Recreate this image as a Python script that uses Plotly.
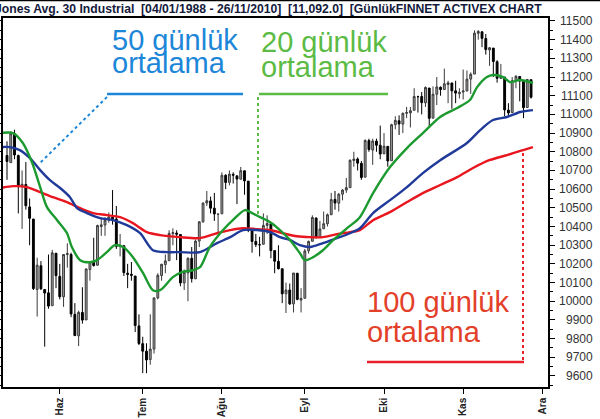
import plotly.graph_objects as go

# ---------------- data (DJIA daily, 11 May 2010 - 26 Nov 2010) ----------------
opens = [10780, 10742, 10896, 10780, 10618, 10625, 10505, 10440, 10063, 10190, 10063, 10045, 9976, 10257,
         10133, 10024, 10250, 10250, 9930, 9815, 9940, 9900, 10170, 10212, 10193, 10400, 10408, 10434, 10450,
         10440, 10293, 10297, 10150, 10144, 10135, 9868,
         9773, 9733, 9688, 9744, 10018, 10138, 10196, 10217, 10362, 10365, 10357, 10098, 10152, 10230, 10120,
         10322, 10425, 10526, 10537, 10498, 10465,
         10468, 10674, 10636, 10679, 10671, 10653, 10698, 10643, 10377, 10320, 10303, 10305, 10406, 10415,
         10271, 10214, 10174, 10040, 10060, 9986, 10150, 10006,
         10016, 10270, 10321, 10446, 10341, 10388, 10415, 10463, 10545, 10525, 10573, 10595, 10608, 10753,
         10761, 10738, 10664, 10860, 10809, 10857, 10835,
         10789, 10829, 10752, 10945, 10966, 10948, 11006, 11008, 11022, 11095, 11096, 11062, 11141, 10980,
         11108, 11145, 11133, 11160, 11168, 11126, 11111,
         11120, 11125, 11189, 11216, 11434, 11442, 11406, 11345, 11355, 11282, 11193, 11200, 11023, 11010,
         11180, 11203, 11177, 11037, 11186]
highs = [10856, 10910, 10918, 10785, 10700, 10745, 10550, 10440, 10233, 10215, 10063, 10250, 10275, 10258,
         10200, 10250, 10310, 10260, 9990, 9950, 10075, 10175, 10215, 10340, 10410, 10440, 10450, 10475, 10595,
         10510, 10360, 10300, 10200, 10210, 10135, 9930,
         9810, 9775, 9930, 10020, 10150, 10200, 10250, 10380, 10390, 10380, 10357, 10170, 10235, 10290, 10330,
         10428, 10530, 10590, 10560, 10580, 10470,
         10690, 10680, 10700, 10690, 10675, 10719, 10700, 10643, 10377, 10360, 10345, 10470, 10460, 10415,
         10271, 10300, 10174, 10100, 10095, 10150, 10150, 10070,
         10280, 10325, 10460, 10446, 10430, 10480, 10470, 10580, 10590, 10580, 10600, 10660, 10760, 10800,
         10770, 10750, 10867, 10870, 10870, 10870, 10940,
         10900, 10830, 10950, 10990, 10995, 11010, 11040, 11040, 11140, 11100, 11120, 11150, 11141, 11150,
         11200, 11150, 11245, 11180, 11170, 11180, 11140,
         11240, 11235, 11225, 11450, 11451, 11445, 11430, 11360, 11355, 11290, 11270, 11200, 11060, 11200,
         11210, 11203, 11180, 11190, 11186]
lows = [10650, 10742, 10760, 10470, 10387, 10490, 10300, 10060, 9918, 10060, 9757, 9960, 9976, 10070,
        10010, 9970, 10180, 9915, 9815, 9760, 9880, 9900, 10110, 10185, 10190, 10350, 10350, 10420, 10410,
        10280, 10240, 10135, 10070, 10110, 9835, 9765,
        9615, 9615, 9660, 9720, 10010, 10110, 10150, 10217, 10300, 10220, 10080, 10060, 10000, 10100, 10120,
        10290, 10420, 10510, 10470, 10430, 10360,
        10468, 10600, 10620, 10630, 10520, 10653, 10570, 10370, 10260, 10290, 10240, 10305, 10360, 10230,
        10150, 10170, 9990, 9937, 9980, 9940, 10005, 9940,
        10016, 10255, 10321, 10335, 10340, 10388, 10400, 10463, 10490, 10480, 10540, 10580, 10608, 10720,
        10700, 10650, 10664, 10800, 10730, 10800, 10760,
        10789, 10720, 10752, 10920, 10890, 10900, 10980, 10930, 11022, 11010, 11000, 11040, 10930, 10980,
        11050, 11100, 11133, 11060, 11030, 11060, 11085,
        11080, 11125, 11110, 11216, 11400, 11360, 11320, 11260, 11200, 11170, 11190, 10990, 10990, 11010,
        11140, 11070, 10980, 11037, 11085]
closes = [10748, 10897, 10783, 10620, 10626, 10511, 10444, 10068, 10193, 10067, 10044, 9974, 10259, 10137,
          10024, 10250, 10255, 9932, 9816, 9940, 9899, 10173, 10211, 10191, 10405, 10409, 10434, 10451, 10442,
          10294, 10298, 10153, 10144, 10139, 9870, 9774,
          9733, 9686, 9744, 10018, 10139, 10198, 10216, 10363, 10367, 10359, 10098, 10154, 10230, 10121, 10322,
          10425, 10525, 10538, 10498, 10467, 10466,
          10674, 10636, 10680, 10675, 10654, 10699, 10644, 10379, 10320, 10303, 10302, 10406, 10416, 10271,
          10214, 10174, 10040, 10060, 9986, 10151, 10010, 10015,
          10269, 10320, 10448, 10341, 10387, 10415, 10463, 10544, 10526, 10573, 10595, 10608, 10754, 10761,
          10739, 10662, 10860, 10812, 10858, 10835, 10788,
          10830, 10751, 10945, 10968, 10949, 11006, 11010, 11020, 11096, 11095, 11063, 11144, 10979, 11108,
          11147, 11133, 11164, 11169, 11126, 11114, 11118,
          11125, 11189, 11215, 11435, 11444, 11407, 11347, 11357, 11283, 11193, 11202, 11024, 11008, 11181,
          11204, 11179, 11036, 11187, 11092]
day_index = list(range(len(closes)))

# moving averages (x = trading-day index)
ma20_x = [-1.9, 1.6, 4.2, 6.6, 8.8, 10.6, 13.3, 15.9, 17.2, 19.4, 22.0, 23.9, 26.5, 28.6, 30.8, 33.4, 36.1,
          38.7, 40.6, 44.0, 46.4, 49.3, 51.2, 53.8, 57.3, 59.9, 63.1, 65.0, 67.1, 69.8, 72.4, 75.1, 77.7,
          79.0, 81.2, 83.8, 86.5, 90.2, 93.6, 97.1, 101.6, 106.1, 110.3, 114.9, 119.4, 122.8, 124.7, 127.3,
          128.9, 131.6, 133.4, 136.1, 139.5]
ma20_y = [10900, 10900, 10847, 10745, 10611, 10504, 10434, 10365, 10290, 10220, 10209, 10220, 10263, 10300,
          10290, 10236, 10150, 10059, 10059, 10129, 10156, 10166, 10182, 10290, 10381, 10434, 10488, 10472,
          10450, 10423, 10381, 10327, 10257, 10220, 10236, 10273, 10327, 10391, 10450, 10579, 10718, 10820,
          10900, 10986, 11034, 11077, 11146, 11200, 11211, 11200, 11173, 11184, 11168]
ma50_x = [-1.9, 0.8, 3.4, 6.1, 8.8, 11.4, 14.1, 16.7, 18.6, 21.2, 24.7, 28.1, 31.8, 35.3, 38.7, 42.4, 45.9,
          51.2, 55.7, 59.2, 62.6, 66.3, 69.8, 72.4, 75.1, 77.7, 80.4, 83.8, 87.5, 91.0, 93.6, 97.1, 101.6,
          106.1, 110.3, 114.9, 122.0, 125.5, 128.9, 132.6, 136.1, 139.5]
ma50_y = [10825, 10825, 10809, 10766, 10702, 10648, 10606, 10557, 10498, 10472, 10445, 10434, 10407, 10364,
          10273, 10263, 10263, 10263, 10311, 10343, 10381, 10381, 10370, 10343, 10327, 10300, 10290, 10311,
          10338, 10364, 10391, 10472, 10541, 10611, 10686, 10755, 10847, 10916, 10970, 10986, 11013, 11023]
ma100_x = [-1.9, 1.6, 5.3, 8.8, 12.2, 15.9, 19.4, 22.8, 26.5, 30.0, 33.4, 37.1, 40.6, 45.9, 51.2, 55.7, 59.2,
           62.6, 66.3, 69.8, 73.2, 76.9, 80.4, 83.8, 87.5, 91.0, 93.6, 97.1, 101.6, 106.1, 110.3, 114.9,
           119.4, 123.6, 128.1, 132.6, 136.9, 139.5]
ma100_y = [10606, 10616, 10611, 10584, 10557, 10531, 10498, 10472, 10461, 10450, 10418, 10370, 10354, 10343,
           10338, 10364, 10381, 10391, 10386, 10381, 10364, 10348, 10343, 10343, 10359, 10370, 10381, 10434,
           10477, 10531, 10579, 10622, 10664, 10713, 10756, 10782, 10809, 10825]

month_ticks = [14, 36, 57, 79, 100, 121, 142]
month_labels = ["Haz", "Tem", "Ağu", "Eyl", "Eki", "Kas", "Ara"]
y_ticks = [9600, 9700, 9800, 9900, 10000, 10100, 10200, 10300, 10400, 10500, 10600, 10700,
           10800, 10900, 11000, 11100, 11200, 11300, 11400, 11500]
title_text = "Jones Avg. 30 Industrial  [04/01/1988 - 26/11/2010]  [11,092.0]  [GünlükFINNET ACTIVEX CHART"

# ---------------- layout geometry (pixels) ----------------
W, H = 600, 419
L, R, T, B = 3, 548, 18, 387


def px(x):
    return (x - L) / (R - L)


def py(y):
    return 1 - (y - T) / (B - T)


FONT = "Liberation Sans, Arial, sans-serif"
BLUE_T, GREEN_T, RED_T = "#1c86d8", "#5cbb45", "#e3402a"

fig = go.Figure()
fig.add_trace(go.Candlestick(
    x=day_index, open=opens, high=highs, low=lows, close=closes,
    increasing=dict(line=dict(color="#3a3a3a", width=1), fillcolor="#a0a0a0"),
    decreasing=dict(line=dict(color="#000000", width=1), fillcolor="#000000"),
    whiskerwidth=0, showlegend=False, hoverinfo="skip"))
fig.add_trace(go.Scatter(x=ma100_x, y=ma100_y, mode="lines", line=dict(color="#e8161e", width=2.4, shape="spline", smoothing=0.8), showlegend=False))
fig.add_trace(go.Scatter(x=ma50_x, y=ma50_y, mode="lines", line=dict(color="#1f3a98", width=2.4, shape="spline", smoothing=0.8), showlegend=False))
fig.add_trace(go.Scatter(x=ma20_x, y=ma20_y, mode="lines", line=dict(color="#1c9a30", width=2.4, shape="spline", smoothing=0.8), showlegend=False))

shapes = []


def seg(x0, y0, x1, y1, color, width=2.5, dash="solid"):
    shapes.append(dict(type="line", xref="paper", yref="paper", x0=px(x0), y0=py(y0), x1=px(x1), y1=py(y1),
                       line=dict(color=color, width=width, dash=dash)))


seg(0, 0.5, 600, 0.5, "#000000", 1.5)
seg(107, 94, 243, 94, BLUE_T, 2.5)
seg(107, 97, 40, 163, BLUE_T, 2, "dot")
seg(259, 94, 388, 94, GREEN_T, 2.5)
seg(258, 97, 258, 214, GREEN_T, 2, "dot")
seg(367, 362, 524, 362, "#e8202a", 2.5)
seg(523, 360, 523, 152, "#e8202a", 2, "dot")

ann = []


def txt(x, y, s, color, size, weight="normal", xanchor="left"):
    ann.append(dict(x=px(x), y=py(y), xref="paper", yref="paper", text=s, showarrow=False,
                    xanchor=xanchor, yanchor="middle", borderpad=0,
                    font=dict(family=FONT, size=size, color=color, weight=weight)))


txt(111, 40, "50 günlük", BLUE_T, 29)
txt(111, 63, "ortalama", BLUE_T, 29)
txt(260, 42, "20 günlük", GREEN_T, 29)
txt(260, 67, "ortalama", GREEN_T, 29)
txt(366, 302, "100 günlük", RED_T, 29)
txt(366, 332, "ortalama", RED_T, 29)
txt(-6, 9, title_text, "#141a3c", 12.2, "bold")

for v in y_ticks:
    ann.append(dict(x=1, xref="paper", y=v, yref="y", xshift=47, xanchor="right", yanchor="middle",
                    text=str(v), showarrow=False, font=dict(family=FONT, size=12, color="#333333")))

fig.update_layout(
    width=W, height=H, margin=dict(l=L, r=W - R, t=T, b=H - B, autoexpand=False),
    paper_bgcolor="white", plot_bgcolor="white",
    shapes=shapes, annotations=ann, showlegend=False,
    xaxis=dict(range=[-1.06, 143.5], tickvals=month_ticks, ticktext=month_labels, tickangle=-90,
               ticks="outside", ticklen=5, tickcolor="#000", showline=True, linecolor="#000", linewidth=1.5,
               mirror=True, showgrid=False, zeroline=False, rangeslider=dict(visible=False), automargin=False,
               tickfont=dict(family=FONT, size=10, color="#222", weight="bold")),
    yaxis=dict(side="right", range=[9541, 11516], tickvals=y_ticks, showticklabels=False, automargin=False,
               ticks="outside", ticklen=5, tickcolor="#000", showline=True, linecolor="#000", linewidth=1.5,
               mirror="ticks", showgrid=False, zeroline=False,
               minor=dict(dtick=50, ticks="outside", ticklen=3, tickcolor="#000")),
)

fig.write_html("out.html", config={"displayModeBar": False},
               post_script="document.body.style.margin='0px';document.body.style.padding='0px';")
